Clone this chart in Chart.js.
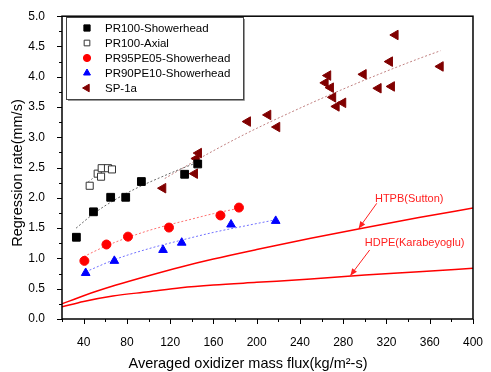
<!DOCTYPE html>
<html>
<head>
<meta charset="utf-8">
<script src="https://cdn.jsdelivr.net/npm/chart.js@4.4.0/dist/chart.umd.min.js"></script>
<style>
  html, body { margin: 0; padding: 0; background: #fff; }
  #wrap { width: 491px; height: 372px; }
</style>
</head>
<body>
<div id="wrap"><canvas id="rate-chart"></canvas></div>
<script>
// measured points (x = averaged oxidizer mass flux, y = regression rate)
const pr100ShowerX = [33.3, 49.1, 65.0, 78.9, 93.4, 133.4, 145.5];
const pr100ShowerY = [1.35, 1.77, 2.01, 2.01, 2.27, 2.39, 2.56];

const pr100AxialX = [45.6, 53.0, 56.1, 56.7, 62.5, 66.2];
const pr100AxialY = [2.20, 2.40, 2.35, 2.49, 2.49, 2.47];

const pr95X = [40.7, 61.1, 81.0, 118.9, 166.5, 183.6];
const pr95Y = [0.96, 1.23, 1.36, 1.51, 1.71, 1.84];

const pr90X = [41.9, 68.4, 113.4, 130.7, 176.3, 217.6];
const pr90Y = [0.76, 0.96, 1.14, 1.26, 1.56, 1.62];

const sp1aX = [113.4, 142.7, 144.3, 146.4, 191.7, 210.5, 218.8, 263.5, 265.9, 268.4,
               270.5, 273.7, 279.8, 298.7, 312.5, 323.0, 324.8, 328.2, 369.9];
const sp1aY = [2.16, 2.40, 2.65, 2.74, 3.26, 3.37, 3.17, 3.90, 4.02, 3.82,
               3.66, 3.51, 3.57, 4.04, 3.81, 4.25, 3.84, 4.69, 4.17];

// dotted fit lines
const fitShowerX = [33, 50, 70, 90, 110, 130, 146];
const fitShowerY = [1.50, 1.75, 1.98, 2.17, 2.33, 2.48, 2.59];

const fitAxialX = [44, 55, 67];
const fitAxialY = [2.26, 2.41, 2.53];

const fitPr95X = [40, 60, 80, 100, 120, 140, 160, 184];
const fitPr95Y = [1.03, 1.20, 1.34, 1.46, 1.56, 1.65, 1.74, 1.83];

const fitPr90X = [42, 70, 100, 130, 160, 190, 218];
const fitPr90Y = [0.78, 0.99, 1.16, 1.30, 1.43, 1.54, 1.64];

const fitSp1aX = [115, 150, 190, 230, 270, 310, 350, 370];
const fitSp1aY = [2.32, 2.68, 3.06, 3.40, 3.72, 4.02, 4.30, 4.43];

// reference correlations (solid red)
const suttonX = [20, 40, 70, 100, 130, 160, 200, 250, 300, 350, 400];
const suttonY = [0.25, 0.385, 0.56, 0.715, 0.86, 0.99, 1.146, 1.332, 1.508, 1.675, 1.833];

const karabX = [20, 40, 67, 100, 130, 160, 200, 250, 300, 350, 400];
const karabY = [0.20, 0.29, 0.38, 0.45, 0.515, 0.56, 0.605, 0.66, 0.725, 0.78, 0.837];

// tick labels
const xTicks = [40, 80, 120, 160, 200, 240, 280, 320, 360, 400];
const yTicks = [0, 0.5, 1.0, 1.5, 2.0, 2.5, 3.0, 3.5, 4.0, 4.5, 5.0];

// callouts for the two correlations
const noteText = ["HTPB(Sutton)", "HDPE(Karabeyoglu)"];
const noteAt = [[341, 1.99], [346, 1.25]];
const arrowFrom = [[311, 1.91], [304.5, 1.14]];
const arrowTo = [[294.3, 1.494], [286.6, 0.716]];

function zip(xs, ys) {
  return xs.map(function (v, i) { return { x: v, y: ys[i] }; });
}

const FONT = "'Liberation Sans', Arial, sans-serif";

function markers(label, xs, ys, style) {
  return Object.assign({
    label: label,
    data: zip(xs, ys),
    showLine: false,
    pointBorderWidth: 1,
    inLegend: true,
  }, style);
}

function curve(xs, ys, color, dash, width) {
  return {
    data: zip(xs, ys),
    showLine: true,
    pointRadius: 0,
    pointHoverRadius: 0,
    borderColor: color,
    borderWidth: width,
    borderDash: dash,
    cubicInterpolationMode: "monotone",
    fill: false,
  };
}

const datasets = [
  markers("PR100-Showerhead", pr100ShowerX, pr100ShowerY, {
    pointStyle: "rect", pointRadius: 5.5, backgroundColor: "#000", borderColor: "#000",
  }),
  markers("PR100-Axial", pr100AxialX, pr100AxialY, {
    pointStyle: "rect", pointRadius: 5, backgroundColor: "#fff", borderColor: "#333",
  }),
  markers("PR95PE05-Showerhead", pr95X, pr95Y, {
    pointStyle: "circle", pointRadius: 4.5, backgroundColor: "#ff0000", borderColor: "#ff0000",
  }),
  markers("PR90PE10-Showerhead", pr90X, pr90Y, {
    pointStyle: "triangle", pointRadius: 5, backgroundColor: "#0000ff", borderColor: "#0000ff",
  }),
  markers("SP-1a", sp1aX, sp1aY, {
    pointStyle: "triangle", pointRotation: -90, pointRadius: 5.5,
    backgroundColor: "#800000", borderColor: "#800000",
  }),
  curve(fitShowerX, fitShowerY, "#666", [2, 2], 1),
  curve(fitAxialX, fitAxialY, "#888", [2, 2], 1),
  curve(fitPr95X, fitPr95Y, "#ff7070", [2, 2], 1),
  curve(fitPr90X, fitPr90Y, "#7070ff", [2, 2], 1),
  curve(fitSp1aX, fitSp1aY, "#c08080", [2, 2], 1),
  curve(suttonX, suttonY, "#ff0000", [], 1.5),
  curve(karabX, karabY, "#ff0000", [], 1.5),
];

// frame, tick marks and axis titles
const framePlugin = {
  id: "frame",
  afterDraw(chart) {
    const ctx = chart.ctx;
    const a = chart.chartArea;
    const xs = chart.scales.x;
    const ys = chart.scales.y;
    ctx.save();
    ctx.strokeStyle = "#000";
    ctx.lineWidth = 1.5;
    ctx.strokeRect(a.left, a.top, a.right - a.left, a.bottom - a.top);

    ctx.lineWidth = 1;
    ctx.beginPath();
    for (let v = 20; v <= 400; v += 20) {
      const px = Math.round(xs.getPixelForValue(v)) + 0.5;
      const len = v % 40 === 0 ? 5 : 3;
      ctx.moveTo(px, a.bottom);
      ctx.lineTo(px, a.bottom + len);
    }
    for (let i = 0; i <= 20; i++) {
      const py = Math.round(ys.getPixelForValue(i * 0.25)) + 0.5;
      const len = i % 2 === 0 ? 5 : 3;
      ctx.moveTo(a.left, py);
      ctx.lineTo(a.left - len, py);
    }
    ctx.stroke();

    ctx.fillStyle = "#000";
    ctx.font = "14.5px " + FONT;
    ctx.textAlign = "center";
    ctx.textBaseline = "middle";
    ctx.fillText("Averaged oxidizer mass flux(kg/m\u00b2-s)", 248, 364);
    ctx.translate(18, 173);
    ctx.rotate(-Math.PI / 2);
    ctx.fillText("Regression rate(mm/s)", 0, 0);
    ctx.restore();
  },
};

// callout text with arrows
const notePlugin = {
  id: "notes",
  afterDatasetsDraw(chart) {
    const ctx = chart.ctx;
    const xs = chart.scales.x;
    const ys = chart.scales.y;
    ctx.save();
    ctx.fillStyle = "#ff2020";
    ctx.strokeStyle = "#ff2020";
    ctx.lineWidth = 1;
    ctx.font = "11px " + FONT;
    ctx.textAlign = "center";
    ctx.textBaseline = "middle";
    noteText.forEach(function (t, i) {
      ctx.fillText(t, xs.getPixelForValue(noteAt[i][0]), ys.getPixelForValue(noteAt[i][1]));
      const x0 = xs.getPixelForValue(arrowFrom[i][0]);
      const y0 = ys.getPixelForValue(arrowFrom[i][1]);
      const x1 = xs.getPixelForValue(arrowTo[i][0]);
      const y1 = ys.getPixelForValue(arrowTo[i][1]);
      const ang = Math.atan2(y1 - y0, x1 - x0);
      ctx.beginPath();
      ctx.moveTo(x0, y0);
      ctx.lineTo(x1, y1);
      ctx.stroke();
      ctx.beginPath();
      ctx.moveTo(x1, y1);
      ctx.lineTo(x1 - 7 * Math.cos(ang) + 3 * Math.sin(ang), y1 - 7 * Math.sin(ang) - 3 * Math.cos(ang));
      ctx.lineTo(x1 - 7 * Math.cos(ang) - 3 * Math.sin(ang), y1 - 7 * Math.sin(ang) + 3 * Math.cos(ang));
      ctx.closePath();
      ctx.fill();
    });
    ctx.restore();
  },
};

// legend box inside the plot
const legendPlugin = {
  id: "boxLegend",
  afterDraw(chart) {
    const ctx = chart.ctx;
    const items = chart.data.datasets.filter(function (d) { return d.inLegend; });
    const left = 66, top = 17, w = 177, h = 82;
    ctx.save();
    ctx.fillStyle = "#fff";
    ctx.fillRect(left, top, w, h);
    ctx.strokeStyle = "#999";
    ctx.lineWidth = 1;
    ctx.beginPath();
    ctx.moveTo(left + w + 1.5, top + 2);
    ctx.lineTo(left + w + 1.5, top + h + 1.5);
    ctx.lineTo(left + 2, top + h + 1.5);
    ctx.stroke();
    ctx.strokeStyle = "#444";
    ctx.strokeRect(left + 0.5, top + 0.5, w, h);
    ctx.font = "11.5px " + FONT;
    ctx.textBaseline = "middle";
    ctx.textAlign = "left";
    items.forEach(function (d, i) {
      const cy = 28 + i * 15;
      ctx.fillStyle = d.backgroundColor;
      ctx.strokeStyle = d.borderColor;
      ctx.lineWidth = 1;
      Chart.helpers.drawPoint(ctx, {
        pointStyle: d.pointStyle,
        rotation: d.pointRotation || 0,
        radius: d.pointRadius * 0.8,
        borderWidth: 1,
      }, 87, cy);
      ctx.fillStyle = "#000";
      ctx.fillText(d.label, 105, cy + 0.5);
    });
    ctx.restore();
  },
};

document.addEventListener("DOMContentLoaded", function () {
  const ctx = document.getElementById("rate-chart").getContext("2d");
  new Chart(ctx, {
    type: "scatter",
    data: { datasets: datasets },
    options: {
      responsive: true,
      maintainAspectRatio: false,
      animation: false,
      layout: { padding: { top: 15, right: 18, left: 0, bottom: 0 } },
      plugins: {
        legend: { display: false },
        tooltip: { enabled: false },
      },
      scales: {
        x: {
          type: "linear",
          min: 20,
          max: 400,
          afterBuildTicks: function (s) {
            s.ticks = xTicks.map(function (v) { return { value: v }; });
          },
          afterFit: function (s) { s.height = 53; },
          grid: { display: false },
          border: { display: false },
          ticks: {
            color: "#000",
            font: { family: FONT, size: 12 },
            padding: 8,
            maxRotation: 0,
            autoSkip: false,
          },
        },
        y: {
          type: "linear",
          min: 0,
          max: 5,
          afterBuildTicks: function (s) {
            s.ticks = yTicks.map(function (v) { return { value: v }; });
          },
          afterFit: function (s) { s.width = 62; },
          grid: { display: false },
          border: { display: false },
          ticks: {
            color: "#000",
            font: { family: FONT, size: 12 },
            padding: 9,
            callback: function (v) { return Number(v).toFixed(1); },
          },
        },
      },
    },
    plugins: [framePlugin, notePlugin, legendPlugin],
  });
});
</script>
</body>
</html>
